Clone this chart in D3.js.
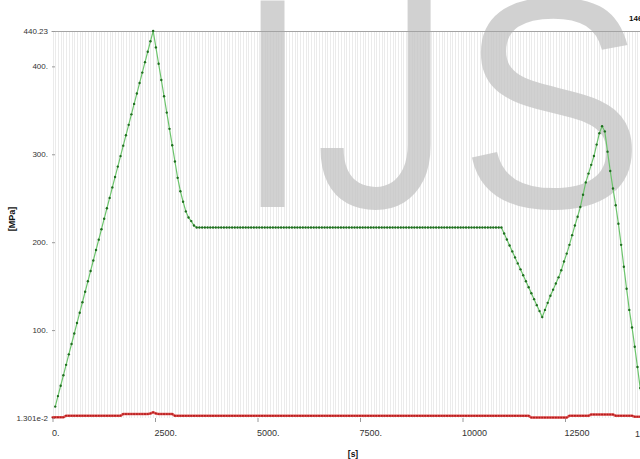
<!DOCTYPE html>
<html>
<head>
<meta charset="utf-8">
<script src="https://cdn.jsdelivr.net/npm/d3@7/dist/d3.min.js"></script>
<style>
  html, body { margin: 0; padding: 0; background: #fff; overflow: hidden; }
  svg text { font-family: "Liberation Sans Narrow", "Liberation Sans", Arial, sans-serif; }
</style>
</head>
<body>
<svg id="chart" width="640" height="459"></svg>
<script>
// Time between stored samples [s]
const SAMPLE_STEP = 66.36;

// Equivalent stress history [MPa], one value per sample (first sample not recorded)
const stressGreen = [
  null, 13.0, 24.9, 36.7, 48.6, 60.5, 72.4, 84.2, 96.1, 108.0,
  119.8, 131.7, 143.6, 155.5, 167.3, 179.2, 191.1, 202.9, 214.8, 226.7,
  238.6, 250.4, 262.3, 274.2, 286.0, 297.9, 309.8, 321.7, 333.5, 345.4,
  357.3, 369.1, 381.0, 392.9, 404.8, 416.6, 428.5, 440.23, 421.6, 403.0,
  384.5, 366.0, 347.4, 328.9, 310.3, 291.8, 273.2, 258.0, 246.0, 235.0,
  228.0, 224.0, 219.0, 216.7, 216.7, 216.7, 216.7, 216.7, 216.7, 216.7,
  216.7, 216.7, 216.7, 216.7, 216.7, 216.7, 216.7, 216.7, 216.7, 216.7,
  216.7, 216.7, 216.7, 216.7, 216.7, 216.7, 216.7, 216.7, 216.7, 216.7,
  216.7, 216.7, 216.7, 216.7, 216.7, 216.7, 216.7, 216.7, 216.7, 216.7,
  216.7, 216.7, 216.7, 216.7, 216.7, 216.7, 216.7, 216.7, 216.7, 216.7,
  216.7, 216.7, 216.7, 216.7, 216.7, 216.7, 216.7, 216.7, 216.7, 216.7,
  216.7, 216.7, 216.7, 216.7, 216.7, 216.7, 216.7, 216.7, 216.7, 216.7,
  216.7, 216.7, 216.7, 216.7, 216.7, 216.7, 216.7, 216.7, 216.7, 216.7,
  216.7, 216.7, 216.7, 216.7, 216.7, 216.7, 216.7, 216.7, 216.7, 216.7,
  216.7, 216.7, 216.7, 216.7, 216.7, 216.7, 216.7, 216.7, 216.7, 216.7,
  216.7, 216.7, 216.7, 216.7, 216.7, 216.7, 216.7, 216.7, 216.7, 216.7,
  216.7, 216.7, 216.7, 216.7, 216.7, 216.7, 209.9, 203.1, 196.3, 189.5,
  182.7, 175.9, 169.1, 162.4, 155.6, 148.8, 142.0, 135.2, 128.4, 121.6,
  114.8, 123.0, 131.0, 139.0, 146.0, 153.0, 160.0, 168.0, 178.0, 187.0,
  197.0, 208.0, 219.0, 229.0, 240.0, 254.0, 268.0, 278.0, 288.0, 298.0,
  311.0, 324.0, 332.0, 326.0, 303.0, 281.0, 261.0, 242.0, 221.0, 197.0,
  172.0, 147.0, 123.0, 103.0, 81.0, 58.0, 34.0, 11.0
];

// Second stress history [MPa], stays close to the minimum
const stressRed = [
  0.8, 0.8, 0.8, 0.8, 0.8, 2.6, 2.6, 2.6, 2.6, 2.6,
  2.6, 2.6, 2.6, 2.6, 2.6, 2.6, 2.6, 2.6, 2.6, 2.6,
  2.6, 2.6, 2.6, 2.6, 2.6, 2.6, 4.5, 4.5, 4.5, 4.5,
  4.5, 4.5, 4.5, 4.5, 4.5, 4.5, 5.2, 6.5, 5.2, 4.5,
  4.5, 4.5, 4.5, 4.5, 4.5, 2.5, 2.5, 2.5, 2.5, 2.5,
  2.5, 2.5, 2.5, 2.5, 2.5, 2.5, 2.5, 2.5, 2.5, 2.5,
  2.5, 2.5, 2.5, 2.5, 2.5, 2.5, 2.5, 2.5, 2.5, 2.5,
  2.5, 2.5, 2.5, 2.5, 2.5, 2.5, 2.5, 2.5, 2.5, 2.5,
  2.5, 2.5, 2.5, 2.5, 2.5, 2.5, 2.5, 2.5, 2.5, 2.5,
  2.5, 2.5, 2.5, 2.5, 2.5, 2.5, 2.5, 2.5, 2.5, 2.5,
  2.5, 2.5, 2.5, 2.5, 2.5, 2.5, 2.5, 2.5, 2.5, 2.5,
  2.5, 2.5, 2.5, 2.5, 2.5, 2.5, 2.5, 2.5, 2.5, 2.5,
  2.5, 2.5, 2.5, 2.5, 2.5, 2.5, 2.5, 2.5, 2.5, 2.5,
  2.5, 2.5, 2.5, 2.5, 2.5, 2.5, 2.5, 2.5, 2.5, 2.5,
  2.5, 2.5, 2.5, 2.5, 2.5, 2.5, 2.5, 2.5, 2.5, 2.5,
  2.5, 2.5, 2.5, 2.5, 2.5, 2.5, 2.5, 2.5, 2.5, 2.5,
  2.5, 2.5, 2.5, 2.5, 2.5, 2.5, 2.5, 2.5, 2.5, 2.5,
  2.5, 2.5, 2.5, 2.5, 2.5, 2.5, 0.5, 0.5, 0.5, 0.5,
  0.5, 0.5, 0.5, 0.5, 0.5, 0.5, 0.5, 0.5, 0.5, 0.5,
  2.6, 2.6, 2.6, 2.6, 2.6, 2.6, 2.6, 2.6, 4.0, 4.0,
  4.0, 4.0, 4.0, 4.0, 4.0, 4.0, 4.0, 2.6, 2.6, 2.6,
  2.6, 2.6, 2.6, 2.6, 1.5, 1.5, 1.5, 1.5, 1.5, 1.5,
  1.5
];

const xTickValues = [0, 2500, 5000, 7500, 10000, 12500];
const xTickLabels = ["0.", "2500.", "5000.", "7500.", "10000", "12500"];
const xEndLabel = "14600.";
const yMin = 0.01301, yMax = 440.23;
const yTickValues = [yMin, 100, 200, 300, 400, yMax];
const yTickLabels = ["1.301e-2", "100.", "200.", "300.", "400.", "440.23"];
const xTitle = "[s]";
const yTitle = "[MPa]";
const watermark = ["I", "J", "S"];

const svg = d3.select("#chart");

const x = d3.scaleLinear().domain([0, 14600]).range([52.5, 651.1]);
const y = d3.scaleLinear().domain([yMin, yMax]).range([418, 31]);

const tOf = i => i * SAMPLE_STEP;

// dense vertical grid, one line per sample
svg.append("g")
  .selectAll("line")
  .data(d3.range(stressRed.length))
  .join("line")
  .attr("x1", i => Math.round(x(tOf(i))) + 0.5)
  .attr("x2", i => Math.round(x(tOf(i))) + 0.5)
  .attr("y1", y(yMax))
  .attr("y2", y(yMin))
  .attr("stroke", "#ebebeb")
  .attr("stroke-width", 1)
  .attr("shape-rendering", "crispEdges");

// watermark letters: each glyph is fitted to its ink box [left, right]
const wmBoxes = [
  { font: "'Liberation Sans'", left: 257, right: 285 },
  { font: "Roboto", left: 318, right: 433 },
  { font: "'Liberation Sans'", left: 468, right: 633 }
];
const wmSize = 300, wmBase = 207;
const ctx = document.createElement("canvas").getContext("2d");
const wm = svg.append("g");
watermark.forEach((ch, i) => {
  const b = wmBoxes[i];
  ctx.font = `${wmSize}px ${b.font}`;
  const m = ctx.measureText(ch);
  const inkL = -m.actualBoundingBoxLeft, inkR = m.actualBoundingBoxRight;
  const sx = (b.right - b.left) / (inkR - inkL);
  const tx = b.left - inkL * sx;
  wm.append("text")
    .attr("transform", `translate(${tx},${wmBase}) scale(${sx},1)`)
    .style("font-family", b.font)
    .style("font-size", wmSize + "px")
    .attr("fill", "#c4c4c4")
    .attr("fill-opacity", 0.78)
    .text(ch);
});

// maximum line at the top
svg.append("line")
  .attr("x1", x(0) - 1).attr("x2", x(14600))
  .attr("y1", Math.round(y(yMax)) + 0.5).attr("y2", Math.round(y(yMax)) + 0.5)
  .attr("stroke", "#a4a4a4").attr("stroke-width", 1);

// x axis
const xAxis = svg.append("g")
  .attr("transform", `translate(0,${y(yMin)})`)
  .call(d3.axisBottom(x)
    .tickValues(xTickValues)
    .tickFormat((d, i) => xTickLabels[i])
    .tickSize(4)
    .tickPadding(8));
xAxis.select(".domain").remove();
xAxis.selectAll(".tick line").attr("stroke", "#9a9a9a");
xAxis.selectAll(".tick text")
  .attr("text-anchor", "start")
  .attr("x", -1)
  .attr("fill", "#333")
  .style("font-size", "9px");

// x end label at the bottom and at the top right
svg.append("text")
  .attr("x", 635).attr("y", 437)
  .attr("fill", "#333").style("font-size", "9px")
  .text(xEndLabel);
svg.append("text")
  .attr("x", 629).attr("y", 21)
  .attr("fill", "#111").style("font-size", "8px").style("font-weight", "bold")
  .text(xEndLabel);

// y axis
const yAxis = svg.append("g")
  .attr("transform", "translate(55,0)")
  .call(d3.axisLeft(y)
    .tickValues(yTickValues)
    .tickFormat((d, i) => yTickLabels[i])
    .tickSize(3)
    .tickPadding(4));
yAxis.select(".domain").remove();
yAxis.selectAll(".tick line").attr("stroke", "#9a9a9a");
yAxis.selectAll(".tick text")
  .attr("fill", "#333")
  .style("font-size", "8px");

// axis titles
svg.append("text")
  .attr("x", 353).attr("y", 457)
  .attr("text-anchor", "middle")
  .style("font-size", "8.5px").style("font-weight", "bold").attr("fill", "#111")
  .text(xTitle);
svg.append("text")
  .attr("transform", "translate(15,219) rotate(-90)")
  .attr("text-anchor", "middle")
  .style("font-size", "9px").style("font-weight", "bold").attr("fill", "#111")
  .text(yTitle);

// series
const line = d3.line()
  .defined(d => d != null)
  .x((d, i) => x(tOf(i)))
  .y(d => y(d));

// red history
svg.append("path")
  .datum(stressRed)
  .attr("fill", "none")
  .attr("stroke", "#e25a5a")
  .attr("stroke-width", 2.6)
  .attr("d", line);
svg.append("g")
  .selectAll("rect")
  .data(stressRed)
  .join("rect")
  .attr("x", (d, i) => x(tOf(i)) - 1)
  .attr("y", d => y(d) - 0.8)
  .attr("width", 2)
  .attr("height", 1.6)
  .attr("fill", "#b51c1c");

// green history
svg.append("path")
  .datum(stressGreen)
  .attr("fill", "none")
  .attr("stroke", "#6cc46c")
  .attr("stroke-width", 1.2)
  .attr("d", line);
svg.append("g")
  .selectAll("circle")
  .data(stressGreen.map((v, i) => ({ v, i })).filter(d => d.v != null))
  .join("circle")
  .attr("cx", d => x(tOf(d.i)))
  .attr("cy", d => y(d.v))
  .attr("r", 1.2)
  .attr("fill", "#1f6e1f");
</script>
</body>
</html>
